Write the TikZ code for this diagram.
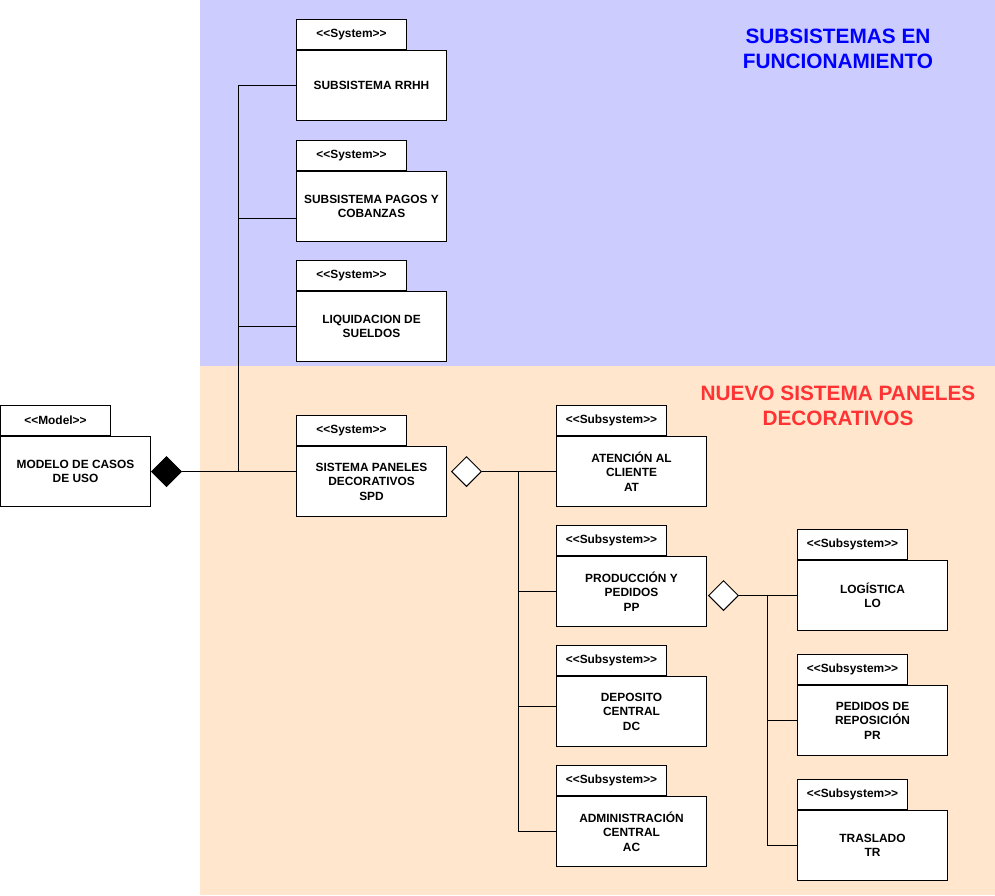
\documentclass[tikz,border=0pt]{standalone}
\usepackage{fontspec}
\setmainfont{Liberation Sans}
\usetikzlibrary{shapes.geometric}
\definecolor{bgblue}{HTML}{CCCCFF}
\definecolor{bgorange}{HTML}{FFE6CC}
\definecolor{titleblue}{HTML}{0000FF}
\definecolor{titlered}{HTML}{FF3333}
\newcommand{\stereo}[1]{<\kern0pt<#1>\kern0pt>}
\tikzset{
  boxfont/.style={font=\fontsize{11.9}{14.4}\selectfont\bfseries},
  pkgtab/.style={draw, fill=white, line width=1pt, minimum width=110pt,
    minimum height=30pt, inner sep=0pt, anchor=south west, boxfont},
  pkgbody/.style={draw, fill=white, line width=1pt, minimum width=150pt,
    minimum height=70pt, inner sep=0pt, anchor=north west, align=center, boxfont},
  agg/.style={diamond, draw, fill=white, line width=1pt, minimum width=30pt,
    minimum height=30pt, inner sep=0pt, anchor=west},
  comp/.style={agg, fill=black},
  link/.style={line width=1pt},
  title/.style={align=center, font=\fontsize{20.8}{25}\selectfont\bfseries}
}
\newcommand{\pkg}[5]{%
  \node[pkgbody] (#1) at (#2,#3) {#5};
  \node[pkgtab] (#1tab) at (#1.north west) {\stereo{#4}};
}
\begin{document}
\begin{tikzpicture}[x=1pt, y=-1pt]
\useasboundingbox (0,0) rectangle (995,895);
\fill[bgblue] (200,0) rectangle (995,366);
\fill[bgorange] (200,366) rectangle (995,895);
\node[title, text=titleblue] (tfunc) at (838,49) {SUBSISTEMAS EN\\FUNCIONAMIENTO};
\node[title, text=titlered] (tnuevo) at (838,406) {NUEVO SISTEMA PANELES\\DECORATIVOS};

\pkg{model}{0}{436}{Model}{MODELO DE CASOS\\DE USO}
\pkg{rrhh}{296}{50}{System}{SUBSISTEMA RRHH}
\pkg{pagos}{296}{171}{System}{SUBSISTEMA PAGOS Y\\COBANZAS}
\pkg{liq}{296}{291}{System}{LIQUIDACION DE\\SUELDOS}
\pkg{spd}{296}{446}{System}{SISTEMA PANELES\\DECORATIVOS\\SPD}
\pkg{at}{556}{436}{Subsystem}{ATENCI\'ON AL\\CLIENTE\\AT}
\pkg{pp}{556}{556}{Subsystem}{PRODUCCI\'ON Y\\PEDIDOS\\PP}
\pkg{dc}{556}{676}{Subsystem}{DEPOSITO\\CENTRAL\\DC}
\pkg{ac}{556}{796}{Subsystem}{ADMINISTRACI\'ON\\CENTRAL\\AC}
\pkg{lo}{797}{560}{Subsystem}{LOG\'ISTICA\\LO}
\pkg{pr}{797}{685}{Subsystem}{PEDIDOS DE\\REPOSICI\'ON\\PR}
\pkg{tr}{797}{810}{Subsystem}{TRASLADO\\TR}

\node[comp] (dmodel) at (model.east) {};
\node[agg] (dspd) at ([xshift=4pt, yshift=10pt]spd.east) {};
\node[agg] (dpp) at ([xshift=1pt, yshift=-4pt]pp.east) {};

\coordinate (j1) at (238,471);
\coordinate (j2) at (518,471);
\coordinate (j3) at (767,595);

\draw[link] (dmodel.east) -- ([yshift=10pt]spd.west);
\draw[link] (j1) |- (rrhh.west);
\draw[link] (j1) |- ([yshift=-12pt]pagos.west);
\draw[link] (j1) |- (liq.west);

\draw[link] (dspd.east) -- (at.west);
\draw[link] (j2) |- (pp.west);
\draw[link] (j2) |- ([yshift=5pt]dc.west);
\draw[link] (j2) |- (ac.west);

\draw[link] (dpp.east) -- (lo.west);
\draw[link] (j3) |- (pr.west);
\draw[link] (j3) |- (tr.west);
\end{tikzpicture}
\end{document}
